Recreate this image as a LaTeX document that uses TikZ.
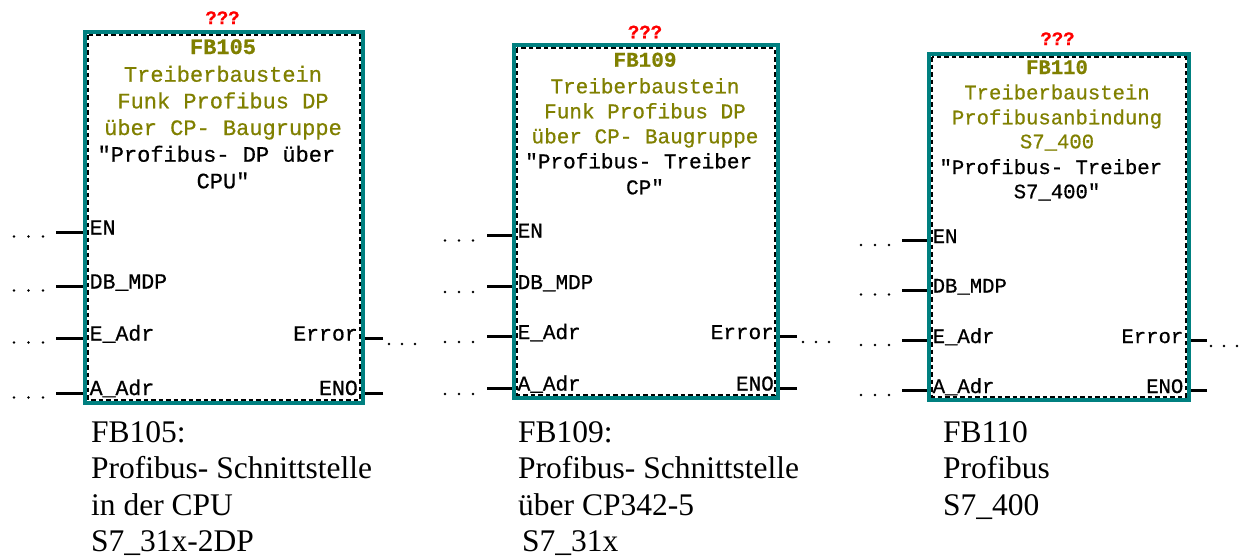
\documentclass[tikz,border=0pt]{standalone}
\usepackage{fontspec}
\setmainfont{Liberation Serif}
\newfontfamily\monofam{Liberation Mono}[FakeBold=0.6]
\definecolor{fbteal}{HTML}{008080}
\definecolor{fbolive}{HTML}{808000}
\definecolor{fbred}{HTML}{FF0000}
\tikzset{
  fbbox/.style={draw=none, fill=white, inner sep=0pt, outer sep=0pt},
  tealrect/.style={draw=fbteal, line width=4.5pt},
  dashbox/.style={draw=black, line width=1.8pt, dash pattern=on 4.5pt off 3pt},
  pinstub/.style={line width=3pt, black, shorten >=2pt},
  txt/.style={inner sep=0pt, anchor=base},
  pinl/.style={inner sep=0pt, anchor=base west},
  pinr/.style={inner sep=0pt, anchor=base east},
  qq/.style={txt, text=fbred, font=\monofam\bfseries\fontsize{19}{22}\selectfont},
  fbname/.style={txt, text=fbolive, font=\monofam\bfseries\fontsize{#1}{24}\selectfont},
  cmt/.style={txt, text=fbolive, font=\monofam\fontsize{#1}{24}\selectfont},
  sym/.style={txt, text=black, font=\monofam\fontsize{#1}{24}\selectfont},
  pinfa/.style={font=\monofam\fontsize{21.5}{24}\selectfont},
  pinfb/.style={font=\monofam\fontsize{21}{24}\selectfont},
  pinfc/.style={font=\monofam\fontsize{20.6}{24}\selectfont},
  capt/.style={inner sep=0pt, anchor=base west, font=\fontsize{31.5}{36}\selectfont},
  dot/.style={fill=black}
}
\begin{document}
\begin{tikzpicture}[x=1pt,y=-1pt]
\useasboundingbox (0,0) rectangle (1239,558);
\fill[white] (0,0) rectangle (1239,558);

% ---------------- Box 1 : FB105 ----------------
\node[fbbox, minimum width=278pt, minimum height=371pt] (b1) at (224,217.5) {};
\draw[tealrect] (b1.north west) rectangle (b1.south east);
\draw[dashbox] ([shift={(3.2,3.2)}]b1.north west) rectangle ([shift={(-3.2,-3.2)}]b1.south east);
\node[qq] (b1q) at (222.5,24) {???};
\node[fbname=22] (b1n) at (223,54) {FB105};
\node[cmt=22] (b1c1) at (223,81.7) {Treiberbaustein};
\node[cmt=22] (b1c2) at (223,108.3) {Funk Profibus DP};
\node[cmt=22] (b1c3) at (223,135) {über CP- Baugruppe};
\node[sym=22] (b1s1) at (223,161.7) {"Profibus- DP über\hphantom{x}};
\node[sym=22] (b1s2) at (223,188.3) {CPU"};
\coordinate (b1ia) at (56,232);
\coordinate (b1ib) at (56,286);
\coordinate (b1ic) at (56,338);
\coordinate (b1id) at (56,393);
\coordinate (b1oa) at (383,338);
\coordinate (b1ob) at (383,393);
\foreach \p in {b1ia,b1ib,b1ic,b1id}{\draw[pinstub] (\p) -- (\p -| b1.west);}
\foreach \p in {b1oa,b1ob}{\draw[pinstub] (\p) -- (\p -| b1.east);}
\node[pinl, pinfa] (b1la) at (89.5,234.5) {EN};
\node[pinl, pinfa] (b1lb) at (89.5,288.5) {DB\_MDP};
\node[pinl, pinfa] (b1lc) at (89.5,340.5) {E\_Adr};
\node[pinl, pinfa] (b1ld) at (89.5,395) {A\_Adr};
\node[pinr, pinfa] (b1ra) at (358,340.5) {Error};
\node[pinr, pinfa] (b1rb) at (358,395) {ENO};
\foreach \y in {236.5,290.5,342.5,397.5}{\foreach \x in {14,28.5,43}{\fill[dot] (\x,\y) circle (1.3);}}
\foreach \x in {389,402,415}{\fill[dot] (\x,344) circle (1.3);}

% ---------------- Box 2 : FB109 ----------------
\node[fbbox, minimum width=264pt, minimum height=353pt] (b2) at (646,221.5) {};
\draw[tealrect] (b2.north west) rectangle (b2.south east);
\draw[dashbox] ([shift={(3.2,3.2)}]b2.north west) rectangle ([shift={(-3.2,-3.2)}]b2.south east);
\node[qq] (b2q) at (645,38.3) {???};
\node[fbname=21] (b2n) at (645,66.7) {FB109};
\node[cmt=21] (b2c1) at (645,93.3) {Treiberbaustein};
\node[cmt=21] (b2c2) at (645,118.3) {Funk Profibus DP};
\node[cmt=21] (b2c3) at (645,143.3) {über CP- Baugruppe};
\node[sym=21] (b2s1) at (645,168.3) {"Profibus- Treiber\hphantom{x}};
\node[sym=21] (b2s2) at (645,194.3) {CP"};
\coordinate (b2ia) at (487,235);
\coordinate (b2ib) at (487,286.7);
\coordinate (b2ic) at (487,336.7);
\coordinate (b2id) at (487,388.3);
\coordinate (b2oa) at (797,336.7);
\coordinate (b2ob) at (797,388.3);
\foreach \p in {b2ia,b2ib,b2ic,b2id}{\draw[pinstub] (\p) -- (\p -| b2.west);}
\foreach \p in {b2oa,b2ob}{\draw[pinstub] (\p) -- (\p -| b2.east);}
\node[pinl, pinfb] (b2la) at (517.5,237.5) {EN};
\node[pinl, pinfb] (b2lb) at (517.5,289) {DB\_MDP};
\node[pinl, pinfb] (b2lc) at (517.5,339) {E\_Adr};
\node[pinl, pinfb] (b2ld) at (517.5,390.5) {A\_Adr};
\node[pinr, pinfb] (b2ra) at (774,339) {Error};
\node[pinr, pinfb] (b2rb) at (774,390.5) {ENO};
\foreach \y in {240.5,292,342,394}{\foreach \x in {445,459,473}{\fill[dot] (\x,\y) circle (1.3);}}
\foreach \x in {803,816,829}{\fill[dot] (\x,342) circle (1.3);}

% ---------------- Box 3 : FB110 ----------------
\node[fbbox, minimum width=260pt, minimum height=346pt] (b3) at (1059,227) {};
\draw[tealrect] (b3.north west) rectangle (b3.south east);
\draw[dashbox] ([shift={(3.2,3.2)}]b3.north west) rectangle ([shift={(-3.2,-3.2)}]b3.south east);
\node[qq] (b3q) at (1057.5,45) {???};
\node[fbname=20.6] (b3n) at (1057,74) {FB110};
\node[cmt=20.6] (b3c1) at (1057,99.3) {Treiberbaustein};
\node[cmt=20.6] (b3c2) at (1057,124.3) {Profibusanbindung};
\node[cmt=20.6] (b3c3) at (1057,148.3) {S7\_400};
\node[sym=20.6] (b3s1) at (1057,174) {"Profibus- Treiber\hphantom{x}};
\node[sym=20.6] (b3s2) at (1057,198.3) {S7\_400"};
\coordinate (b3ia) at (902,240.7);
\coordinate (b3ib) at (902,290);
\coordinate (b3ic) at (902,340.7);
\coordinate (b3id) at (902,390.7);
\coordinate (b3oa) at (1207,340.7);
\coordinate (b3ob) at (1207,390.7);
\foreach \p in {b3ia,b3ib,b3ic,b3id}{\draw[pinstub] (\p) -- (\p -| b3.west);}
\foreach \p in {b3oa,b3ob}{\draw[pinstub] (\p) -- (\p -| b3.east);}
\node[pinl, pinfc] (b3la) at (932.5,243) {EN};
\node[pinl, pinfc] (b3lb) at (932.5,292.5) {DB\_MDP};
\node[pinl, pinfc] (b3lc) at (932.5,343) {E\_Adr};
\node[pinl, pinfc] (b3ld) at (932.5,393) {A\_Adr};
\node[pinr, pinfc] (b3ra) at (1183.5,343) {Error};
\node[pinr, pinfc] (b3rb) at (1183.5,393) {ENO};
\foreach \y in {245,294.5,345,395}{\foreach \x in {861,875,889}{\fill[dot] (\x,\y) circle (1.3);}}
\foreach \x in {1211,1224,1237}{\fill[dot] (\x,346) circle (1.3);}

% ---------------- Captions ----------------
\node[capt] (c1a) at (91,442) {FB105:};
\node[capt] (c1b) at (91,478.5) {Profibus- Schnittstelle};
\node[capt] (c1c) at (91,515) {in der CPU};
\node[capt] (c1d) at (91,551.5) {S7\_31x-2DP};
\node[capt] (c2a) at (518,442) {FB109:};
\node[capt] (c2b) at (518,478.5) {Profibus- Schnittstelle};
\node[capt] (c2c) at (518,515) {über CP342-5};
\node[capt] (c2d) at (518,551.5) {\hspace*{4pt}S7\_31x};
\node[capt] (c3a) at (943,442) {FB110};
\node[capt] (c3b) at (943,478.5) {Profibus};
\node[capt] (c3c) at (943,515) {S7\_400};
\end{tikzpicture}
\end{document}
